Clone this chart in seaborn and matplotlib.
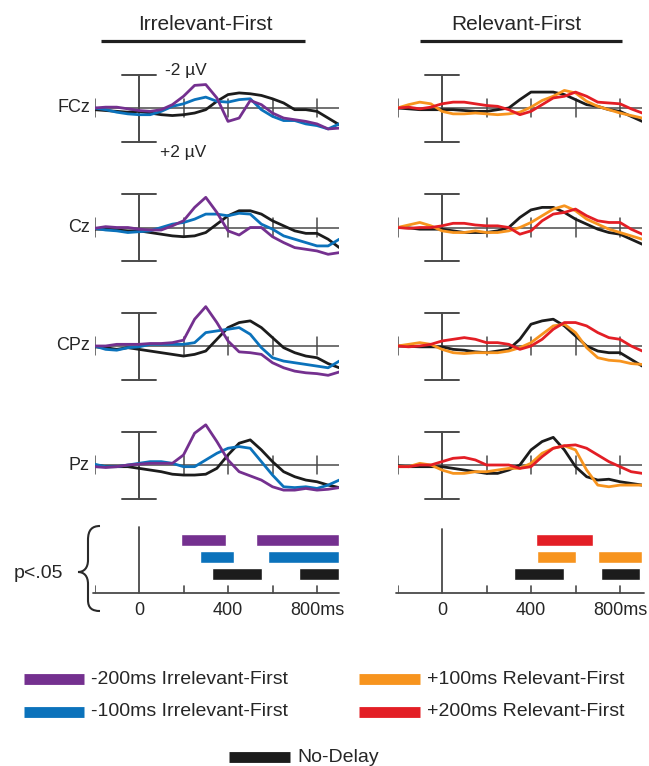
import numpy as np
import pandas as pd
import matplotlib
matplotlib.use("Agg")
import matplotlib.pyplot as plt
import seaborn as sns
from matplotlib.path import Path
from matplotlib.patches import PathPatch

# ---------------- data ----------------
time_ms = list(range(-200, 901, 50))
electrodes = ["FCz", "Cz", "CPz", "Pz"]
panel_titles = ["Irrelevant-First", "Relevant-First"]
tick_label_pos = [0, 400, 800]
tick_labels = ["0", "400", "800ms"]

lab_m200 = "-200ms Irrelevant-First"
lab_m100 = "-100ms Irrelevant-First"
lab_p100 = "+100ms Relevant-First"
lab_p200 = "+200ms Relevant-First"
lab_nd = "No-Delay"

# amplitudes in microvolts (negative plotted upward)
fcz_m200 = [0.0, -0.05, -0.05, 0.05, 0.15, 0.2, 0.1, -0.2, -0.7, -1.35, -1.4, -0.6, 0.8, 0.6, -0.45, -0.2, 0.3, 0.6, 0.7, 0.8, 0.95, 1.25, 1.2]
fcz_m100 = [0.0, 0.1, 0.25, 0.35, 0.4, 0.4, 0.2, -0.1, -0.25, -0.5, -0.65, -0.4, -0.35, -0.5, -0.55, 0.1, 0.5, 0.75, 0.75, 0.95, 1.05, 1.25, 0.95]
fcz_irr_nd = [0.1, 0.15, 0.2, 0.25, 0.2, 0.3, 0.4, 0.45, 0.4, 0.3, 0.1, -0.4, -0.8, -0.9, -0.85, -0.75, -0.55, -0.3, 0.1, 0.1, 0.2, 0.6, 1.0]
fcz_p100 = [0.0, -0.2, -0.35, -0.25, 0.2, 0.35, 0.35, 0.3, 0.35, 0.4, 0.35, 0.25, -0.05, -0.45, -0.7, -1.05, -0.9, -0.4, -0.1, 0.1, 0.3, 0.45, 0.6]
fcz_p200 = [0.0, -0.05, 0.05, -0.05, -0.25, -0.35, -0.35, -0.25, -0.15, -0.1, 0.1, 0.4, 0.2, -0.2, -0.6, -0.7, -0.95, -0.7, -0.35, -0.3, -0.25, 0.05, 0.3]
fcz_rel_nd = [0.0, 0.05, 0.1, 0.1, 0.1, 0.1, 0.15, 0.2, 0.2, 0.1, 0.0, -0.5, -0.95, -0.95, -0.95, -0.8, -0.5, -0.2, -0.1, 0.1, 0.2, 0.5, 0.8]

cz_m200 = [0.05, -0.05, 0.0, 0.0, 0.1, 0.15, 0.15, -0.1, -0.4, -1.2, -1.8, -0.9, 0.2, 0.45, 0.0, 0.0, 0.55, 0.9, 1.2, 1.3, 1.4, 1.6, 1.5]
cz_m100 = [0.05, 0.15, 0.2, 0.3, 0.25, 0.2, 0.0, -0.2, -0.3, -0.5, -0.8, -0.8, -0.7, -0.85, -0.8, -0.2, 0.1, 0.5, 0.7, 0.9, 1.1, 1.1, 0.7]
cz_irr_nd = [0.1, 0.1, 0.15, 0.2, 0.2, 0.3, 0.4, 0.5, 0.55, 0.5, 0.3, -0.2, -0.7, -1.0, -1.0, -0.8, -0.4, -0.1, 0.2, 0.35, 0.35, 0.7, 1.2]
cz_p100 = [0.0, -0.15, -0.3, -0.1, 0.2, 0.3, 0.3, 0.2, 0.3, 0.3, 0.2, 0.0, -0.3, -0.7, -1.1, -1.3, -1.0, -0.5, -0.2, 0.1, 0.3, 0.5, 0.7]
cz_p200 = [0.0, 0.05, 0.0, 0.0, -0.1, -0.25, -0.25, -0.15, -0.1, -0.1, 0.0, 0.4, 0.2, -0.4, -0.8, -0.9, -1.1, -0.7, -0.4, -0.3, -0.3, 0.1, 0.4]
cz_rel_nd = [0.0, 0.02, 0.1, 0.1, 0.1, 0.2, 0.3, 0.3, 0.3, 0.2, 0.0, -0.6, -1.05, -1.2, -1.2, -0.9, -0.5, -0.2, 0.1, 0.3, 0.4, 0.7, 1.0]

cpz_m200 = [0.0, 0.0, -0.1, -0.1, -0.1, -0.15, -0.15, -0.2, -0.35, -1.6, -2.35, -1.4, -0.3, 0.35, 0.4, 0.5, 1.0, 1.3, 1.5, 1.6, 1.65, 1.75, 1.55]
cpz_m100 = [0.0, 0.2, 0.25, 0.1, 0.05, -0.1, -0.1, -0.1, -0.1, -0.2, -0.8, -0.9, -1.0, -1.1, -0.7, 0.1, 0.7, 0.9, 1.0, 1.1, 1.2, 1.3, 0.9]
cpz_irr_nd = [0.05, 0.1, 0.2, 0.1, 0.2, 0.3, 0.4, 0.5, 0.6, 0.5, 0.3, -0.4, -1.1, -1.4, -1.5, -1.1, -0.5, 0.1, 0.4, 0.6, 0.7, 1.05, 1.3]
cpz_p100 = [0.0, -0.1, -0.2, -0.1, 0.2, 0.4, 0.45, 0.4, 0.4, 0.4, 0.3, 0.1, -0.2, -0.7, -1.2, -1.3, -0.8, 0.1, 0.7, 0.85, 0.9, 1.05, 1.1]
cpz_p200 = [0.0, 0.05, 0.0, -0.1, -0.3, -0.4, -0.5, -0.4, -0.2, -0.2, -0.1, 0.2, 0.0, -0.4, -1.0, -1.4, -1.4, -1.2, -0.8, -0.5, -0.4, 0.0, 0.3]
cpz_rel_nd = [0.0, 0.02, 0.05, 0.05, 0.05, 0.2, 0.25, 0.35, 0.4, 0.3, 0.2, -0.4, -1.3, -1.5, -1.6, -1.2, -0.6, 0.0, 0.3, 0.4, 0.4, 0.8, 1.2]

pz_m200 = [0.1, 0.15, 0.1, 0.0, -0.05, -0.1, -0.1, -0.1, -0.6, -1.9, -2.4, -1.4, -0.3, 0.4, 0.65, 0.9, 1.3, 1.5, 1.5, 1.4, 1.5, 1.45, 1.35]
pz_m100 = [-0.05, 0.1, 0.1, 0.0, -0.1, -0.2, -0.2, -0.1, 0.1, 0.1, -0.3, -0.7, -1.0, -1.1, -1.0, -0.2, 0.6, 1.3, 1.35, 1.3, 1.4, 1.2, 0.9]
pz_irr_nd = [0.0, 0.1, 0.1, 0.1, 0.2, 0.3, 0.4, 0.55, 0.6, 0.6, 0.55, 0.2, -0.6, -1.3, -1.5, -0.9, -0.2, 0.4, 0.7, 0.9, 1.0, 1.2, 1.35]
pz_p100 = [0.1, 0.1, -0.1, 0.0, 0.3, 0.5, 0.5, 0.4, 0.4, 0.3, 0.2, 0.2, -0.1, -0.7, -1.0, -1.15, -0.9, 0.3, 1.2, 1.3, 1.2, 1.2, 1.2]
pz_p200 = [0.1, 0.1, 0.0, 0.0, -0.2, -0.4, -0.45, -0.3, 0.0, 0.0, 0.0, 0.2, 0.1, -0.5, -1.0, -1.15, -1.2, -1.0, -0.6, -0.2, 0.1, 0.4, 0.5]
pz_rel_nd = [0.05, 0.1, 0.1, 0.1, 0.1, 0.2, 0.3, 0.4, 0.5, 0.5, 0.3, 0.0, -0.9, -1.4, -1.65, -0.9, 0.1, 0.7, 0.9, 0.85, 1.0, 1.1, 1.2]

# significant intervals (ms): p<.05
sig_m200 = [(190, 390), (527, 900)]
sig_m100 = [(273, 427), (582, 900)]
sig_irr_nd = [(327, 555), (718, 900)]
sig_p200 = [(422, 680)]
sig_p100 = [(427, 602), (701, 900)]
sig_rel_nd = [(324, 548), (715, 890)]

# ---------------- style ----------------
colors = {lab_m200: "#74308f", lab_m100: "#0b72bb", lab_nd: "#1c1c1c",
          lab_p100: "#f7941e", lab_p200: "#e31e25"}
AXC = "#4a4a4a"
TXT = "#262626"

sns.set_theme(style="white")
plt.rcParams["font.family"] = ["Liberation Sans", "DejaVu Sans"]

waves = {
    ("FCz", 0): {lab_nd: fcz_irr_nd, lab_m100: fcz_m100, lab_m200: fcz_m200},
    ("FCz", 1): {lab_nd: fcz_rel_nd, lab_p100: fcz_p100, lab_p200: fcz_p200},
    ("Cz", 0): {lab_nd: cz_irr_nd, lab_m100: cz_m100, lab_m200: cz_m200},
    ("Cz", 1): {lab_nd: cz_rel_nd, lab_p100: cz_p100, lab_p200: cz_p200},
    ("CPz", 0): {lab_nd: cpz_irr_nd, lab_m100: cpz_m100, lab_m200: cpz_m200},
    ("CPz", 1): {lab_nd: cpz_rel_nd, lab_p100: cpz_p100, lab_p200: cpz_p200},
    ("Pz", 0): {lab_nd: pz_irr_nd, lab_m100: pz_m100, lab_m200: pz_m200},
    ("Pz", 1): {lab_nd: pz_rel_nd, lab_p100: pz_p100, lab_p200: pz_p200},
}
sig_rows = [
    [(lab_m200, sig_m200), (lab_m100, sig_m100), (lab_nd, sig_irr_nd)],
    [(lab_p200, sig_p200), (lab_p100, sig_p100), (lab_nd, sig_rel_nd)],
]

W, H = 649, 766
fig = plt.figure(figsize=(W / 100, H / 100), dpi=100)
fig.patch.set_facecolor("white")


def px_axes(x0, y0, x1, y1):
    ax = fig.add_axes([x0 / W, 1 - y1 / H, (x1 - x0) / W, (y1 - y0) / H])
    ax.set_facecolor("none")
    return ax


overlay = px_axes(0, 0, W, H)
overlay.set_xlim(0, W)
overlay.set_ylim(H, 0)
overlay.axis("off")

PX_MS = 44.5 / 200
PX_UV = 16.75
T0, T1 = -200, 900
YR = 3.5
col_zero = [139, 442]
row_base = [108, 227.5, 346, 465]
tick_ms = [-200, 200, 400, 600, 800]

for r, el in enumerate(electrodes):
    for c in range(2):
        x0 = col_zero[c] + T0 * PX_MS
        x1 = col_zero[c] + T1 * PX_MS
        ax = px_axes(x0, row_base[r] - YR * PX_UV, x1, row_base[r] + YR * PX_UV)
        ax.plot([T0, T1], [0, 0], color=AXC, lw=1.1, zorder=1)
        for t in tick_ms:
            ax.plot([t, t], [-0.55, 0.55], color=AXC, lw=1.1, zorder=1)
        ax.plot([0, 0], [-2, 2], color=AXC, lw=1.4, zorder=1)
        ax.plot([-76, 76], [-2, -2], color=AXC, lw=1.4, zorder=1)
        ax.plot([-76, 76], [2, 2], color=AXC, lw=1.4, zorder=1)
        d = waves[(el, c)]
        df = pd.DataFrame([{"time": t, "uv": v, "cond": k}
                           for k, vals in d.items() for t, v in zip(time_ms, vals)])
        sns.lineplot(data=df, x="time", y="uv", hue="cond", hue_order=list(d.keys()),
                     palette=colors, lw=2.0, legend=False, ax=ax, errorbar=None, zorder=3)
        ax.set_xlim(T0, T1)
        ax.set_ylim(YR, -YR)
        ax.axis("off")
        if c == 0:
            overlay.text(90, row_base[r], el, ha="right", va="center", fontsize=13, color=TXT)

overlay.text(165, 70, "-2 µV", ha="left", va="center", fontsize=12.5, color=TXT)
overlay.text(160, 153, "+2 µV", ha="left", va="center", fontsize=12.5, color=TXT)

# headers
for c, (cx, lx0, lx1) in enumerate([(205, 101, 305), (516, 420, 622)]):
    overlay.text(cx, 25, panel_titles[c], ha="center", va="center", fontsize=15, color=TXT)
    overlay.plot([lx0, lx1], [41, 41], color="#1f1f1f", lw=2.3, solid_capstyle="butt")

# significance panels
ROW_PX = 17.0
Y_TOP, Y_BOT, Y_ROW0 = 520, 620, 540
for c in range(2):
    x0 = col_zero[c] + T0 * PX_MS
    x1 = col_zero[c] + T1 * PX_MS
    ax = px_axes(x0, Y_TOP, x1, Y_BOT)
    ax.set_xlim(T0, T1)
    ax.set_ylim((Y_BOT - Y_ROW0) / ROW_PX, (Y_TOP - Y_ROW0) / ROW_PX)
    axis_y = (593 - Y_ROW0) / ROW_PX
    for i, (lab, ivals) in enumerate(sig_rows[c]):
        for s, e in ivals:
            ax.barh(i, e - s, left=s, height=0.66, color=colors[lab], zorder=3)
    ax.plot([T0 - 5, T1 + (10 if c else 0)], [axis_y, axis_y], color=AXC, lw=1.3, clip_on=False)
    for t in tick_ms:
        ax.plot([t, t], [axis_y, axis_y - 0.42], color=AXC, lw=1.2)
    top = (527 - Y_ROW0) / ROW_PX if c == 0 else (529 - Y_ROW0) / ROW_PX
    ax.plot([0, 0], [top, axis_y], color=AXC, lw=1.3)
    for t, lab in zip(tick_label_pos, tick_labels):
        ax.text(t, (610.5 - Y_ROW0) / ROW_PX, lab, ha="center", va="center",
                fontsize=13, color=TXT)
    ax.axis("off")

# brace and p<.05 label
verts = [(100, 526), (92, 526), (88, 530), (88, 540),
         (88, 560),
         (88, 568), (84, 572), (78, 572),
         (84, 572), (88, 576), (88, 584),
         (88, 600),
         (88, 608), (92, 611), (100, 611)]
codes = [Path.MOVETO, Path.CURVE4, Path.CURVE4, Path.CURVE4,
         Path.LINETO,
         Path.CURVE4, Path.CURVE4, Path.CURVE4,
         Path.CURVE4, Path.CURVE4, Path.CURVE4,
         Path.LINETO,
         Path.CURVE4, Path.CURVE4, Path.CURVE4]
overlay.add_patch(PathPatch(Path(verts, codes), fill=False, edgecolor="#2a2a2a", lw=1.5))
overlay.text(63, 573, "p<.05", ha="right", va="center", fontsize=14, color=TXT)

# legend
legend_items = [
    (lab_m200, 24, 84, 679), (lab_p100, 359, 420, 679),
    (lab_m100, 24, 84, 712), (lab_p200, 359, 420, 712),
    (lab_nd, 229, 290, 757),
]
for lab, sx0, sx1, yy in legend_items:
    overlay.plot([sx0, sx1], [yy, yy], color=colors[lab], lw=7.8, solid_capstyle="butt")
    overlay.text(sx1 + 7, yy, lab, ha="left", va="center", fontsize=14, color=TXT)

fig.savefig("out.png", dpi=100, facecolor="white")
